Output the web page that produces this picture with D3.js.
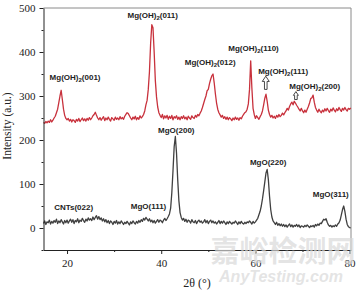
<!DOCTYPE html>
<html><head><meta charset="utf-8">
<script src="https://cdn.jsdelivr.net/npm/d3@7"></script>
<style>body{margin:0;background:#fff}svg{display:block}</style>
</head><body>
<svg id="c" width="359" height="292"></svg>
<script>
// 2θ grid: 15.00 to 80.25 in 0.25° steps
const thetaStart = 15, thetaStep = 0.25;
const mgOH2 = [
 240,238,242,239, 243,240,246,241, 245,250,254,262, 270,285,300,313, 292,270,256,249,
 246,249,243,247, 241,246,244,240, 247,243,249,242, 246,250,244,248, 243,249,245,251,
 246,250,255,258, 263,256,250,246, 251,245,249,253, 244,250,246,252, 247,243,251,248,
 245,252,247,250, 246,253,248,251, 247,254,258,262, 260,255,250,246, 252,248,254,246,
 251,247,255,250, 253,258,266,280, 290,315,355,420, 462,455,400,335, 298,275,262,256,
 251,258,248,255, 250,256,247,254, 249,256,246,253, 250,255,247,252, 246,253,249,255,
 248,252,246,254, 250,247,255,251, 249,256,252,258, 255,261,266,274, 283,292,300,312,
 315,328,338,346, 350,330,305,284, 270,262,257,252, 256,249,253,247, 252,246,251,248,
 244,250,246,252, 247,250,245,251, 248,254,258,262, 264,270,282,315, 380,318,272,258,
 249,255,251,247, 253,258,266,280, 295,304,288,268, 258,252,256,250, 254,249,256,252,
 258,253,256,261, 257,262,266,272, 268,276,282,286, 280,288,284,279, 275,270,266,272,
 266,262,268,263, 270,276,284,294, 296,302,286,274, 268,263,270,265, 262,268,264,271,
 266,272,267,263, 270,266,273,268, 264,271,267,274, 269,265,272,268, 274,269,266,272,
 270,273
];
const mgO = [
 10,16,8,14, 12,18,9,15, 11,17,13,20, 10,16,12,19, 14,9,17,12,
 18,11,16,20, 13,19,10,17, 14,21,12,18, 15,22,17,13, 20,16,23,18,
 21,17,25,19, 24,28,20,26, 19,23,16,21, 14,19,12,17, 10,16,13,8,
 15,11,17,9, 14,10,16,12, 8,13,10,15, 11,7,14,10, 16,12,9,15,
 11,17,13,19, 15,22,18,24, 20,16,21,14, 18,12,17,11, 15,19,13,18,
 16,12,18,22, 17,21,26,32, 45,80,130,185, 208,170,110,62, 35,24,18,22,
 15,20,13,18, 16,11,19,14, 12,17,10,15, 18,13,16,11, 14,19,12,17,
 10,15,18,12, 16,11,14,9, 13,17,10,15, 11,16,12,8, 14,10,15,12,
 9,13,11,16, 12,8,14,10, 15,11,9,13, 10,14,12,16, 13,9,15,11,
 14,18,22,30, 38,50,66,85, 105,125,133,110, 72,42,25,16, 12,8,13,6,
 10,5,9,4, 8,3,7,2, 6,9,3,7, 2,6,4,8, 3,7,1,5,
 4,2,6,3, 7,4,1,5, 3,6,2,8, 5,9,6,11, 10,15,20,18,
 21,13,7,4, 6,2,5,3, 7,4,9,12, 18,30,42,50, 38,20,8,3,
 1,0
];
const xTicks = [20, 40, 60, 80];
const xMinor = [30, 50, 70];
const yTicks = [0, 100, 200, 300, 400, 500];
const yMinor = [-50, 50, 150, 250, 350, 450];
const labels = [
 {pre:"Mg(OH)", sub:"2", post:"(001)", t:21.7, v:336},
 {pre:"Mg(OH)", sub:"2", post:"(011)", t:38.2, v:477},
 {pre:"Mg(OH)", sub:"2", post:"(012)", t:50.4, v:370},
 {pre:"Mg(OH)", sub:"2", post:"(110)", t:59.6, v:402},
 {pre:"Mg(OH)", sub:"2", post:"(111)", t:65.9, v:350},
 {pre:"Mg(OH)", sub:"2", post:"(200)", t:72.6, v:316},
 {pre:"MgO(200)", sub:"", post:"", t:43.2, v:216},
 {pre:"MgO(220)", sub:"", post:"", t:62.7, v:143},
 {pre:"MgO(311)", sub:"", post:"", t:76.0, v:70},
 {pre:"MgO(111)", sub:"", post:"", t:37.3, v:43},
 {pre:"CNTs(022)", sub:"", post:"", t:21.4, v:41}
];
const arrows = [
 {t:62.2, top:345, bottom:315, head:7},
 {t:68.6, top:310, bottom:292, head:5}
];

const svg = d3.select("#c");
const x = d3.scaleLinear().domain([15, 80.3]).range([43.5, 351]);
const y = d3.scaleLinear().domain([-50, 500]).range([250, 8]);

// frame (top & right)
svg.append("path").attr("d", `M${x(15)},${y(500)}H${x(80.3)}V${y(-50)}`)
  .attr("fill","none").attr("stroke","#8a8a8a").attr("stroke-width",1);

const line = d3.line().x(d=>x(d[0])).y(d=>y(d[1]));
const toPts = arr => arr.map((v,i)=>[thetaStart + i*thetaStep, v]);

svg.append("path").datum(toPts(mgO)).attr("d", line)
  .attr("fill","none").attr("stroke","#404040").attr("stroke-width",1.3).attr("stroke-linejoin","round");
svg.append("path").datum(toPts(mgOH2)).attr("d", line)
  .attr("fill","none").attr("stroke","#c8313c").attr("stroke-width",1.3).attr("stroke-linejoin","round");

// axes
const gx = svg.append("g").attr("transform",`translate(0,${y(-50)})`)
  .call(d3.axisBottom(x).tickValues(xTicks).tickSize(4).tickSizeOuter(0));
svg.append("g").attr("transform",`translate(0,${y(-50)})`)
  .call(d3.axisBottom(x).tickValues(xMinor).tickSize(2).tickFormat("").tickSizeOuter(0))
  .select(".domain").remove();
const gy = svg.append("g").attr("transform",`translate(${x(15)},0)`)
  .call(d3.axisLeft(y).tickValues(yTicks).tickSize(4).tickSizeOuter(0));
svg.append("g").attr("transform",`translate(${x(15)},0)`)
  .call(d3.axisLeft(y).tickValues(yMinor).tickSize(2).tickFormat("").tickSizeOuter(0))
  .select(".domain").remove();
svg.selectAll(".domain").attr("stroke","#222");
svg.selectAll(".tick line").attr("stroke","#222");
gx.selectAll("text").attr("font-family","Liberation Serif").attr("font-size",11).attr("fill","#222").attr("dy","0.95em");
gy.selectAll("text").attr("font-family","Liberation Serif").attr("font-size",11).attr("fill","#222").attr("dx","-0.1em");

// axis titles
svg.append("text").attr("x",197).attr("y",287).attr("text-anchor","middle")
  .attr("font-family","Liberation Serif").attr("font-size",12).attr("fill","#222").text("2θ (°)");
svg.append("text").attr("transform","translate(11,126) rotate(-90)").attr("text-anchor","middle")
  .attr("font-family","Liberation Serif").attr("font-size",11.5).attr("fill","#222").text("Intensity (a.u.)");

// peak labels
labels.forEach(l=>{
  const t = svg.append("text").attr("x",x(l.t)).attr("y",y(l.v)).attr("text-anchor","middle")
    .attr("font-family","Liberation Sans").attr("font-weight","bold").attr("font-size",8).attr("fill","#222");
  t.append("tspan").text(l.pre);
  if(l.sub){
    t.append("tspan").attr("font-size",6).attr("dy",2).text(l.sub);
    t.append("tspan").attr("dy",-2).text(l.post);
  }
});

// hollow arrows
arrows.forEach(a=>{
  const cx = x(a.t), ty = y(a.top), by = y(a.bottom), hw = a.head/2, hh = a.head*0.75, sw = 1.3;
  svg.append("path")
    .attr("d",`M${cx},${ty}L${cx+hw},${ty+hh}H${cx+sw}V${by}H${cx-sw}V${ty+hh}H${cx-hw}Z`)
    .attr("fill","#fff").attr("stroke","#333").attr("stroke-width",0.9);
});

// watermark
svg.append("text").attr("x",283).attr("y",262).attr("text-anchor","middle")
  .attr("font-family","Noto Sans CJK SC").attr("font-weight","bold").attr("font-size",29)
  .attr("fill","#d8d8d8").attr("fill-opacity",0.7).text("嘉峪检测网");
svg.append("text").attr("x",281).attr("y",282).attr("text-anchor","middle")
  .attr("font-family","Liberation Sans").attr("font-style","italic").attr("font-weight","bold").attr("font-size",16)
  .attr("fill","#d8d8d8").attr("fill-opacity",0.7).text("AnyTesting.com");
</script>
</body></html>
